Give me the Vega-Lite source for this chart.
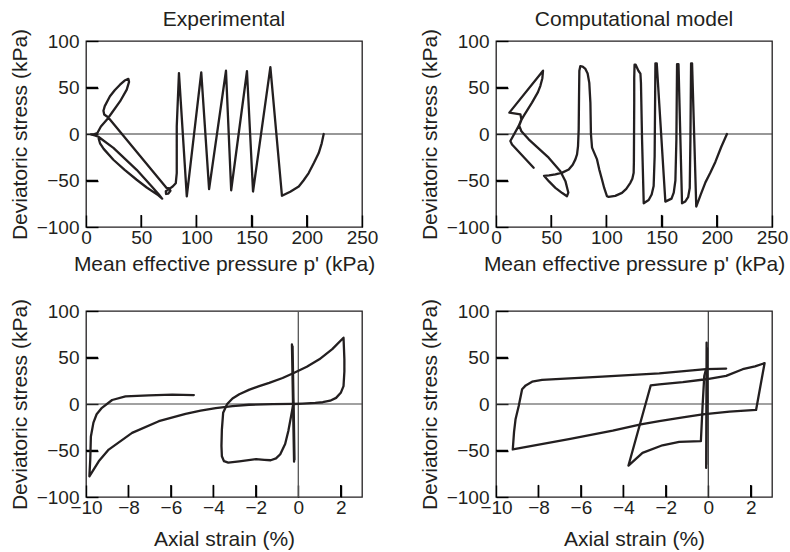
{
  "$schema": "https://vega.github.io/schema/vega-lite/v6.json",
  "background": "white",
  "padding": {"left": 8, "top": 8, "right": 0, "bottom": 0},
  "bounds": "flush",
  "columns": 2,
  "spacing": {"row": 84, "column": 134},
  "config": {
    "view": {"stroke": "#231f20", "strokeWidth": 1.3},
    "font": "Liberation Sans",
    "axis": {
      "domain": false, "grid": false, "ticks": true, "tickSize": 12, "offset": -12, "zindex": 2,
      "tickColor": "black", "tickWidth": 1.4, "tickOpacity": 1,
      "labelFont": "Liberation Sans", "labelFontSize": 19, "labelColor": "#231f20",
      "labelFlush": false, "labelOverlap": false, "labelBound": false,
      "titleFont": "Liberation Sans", "titleFontSize": 21, "titleFontWeight": "normal", "titleColor": "#231f20"
    },
    "axisX": {"labelPadding": 1.5, "titlePadding": 6},
    "axisY": {"labelPadding": 7, "titlePadding": 6},
    "title": {"font": "Liberation Sans", "fontSize": 21, "fontWeight": "normal", "color": "#231f20", "offset": -2, "baseline": "alphabetic", "frame": "group"}
  },
  "datasets": {
    "ticksP": [{"v": 50}, {"v": 100}, {"v": 150}, {"v": 200}],
    "ticksE": [{"v": -8}, {"v": -6}, {"v": -4}, {"v": -2}, {"v": 2}],
    "ticksQ": [{"v": 50}, {"v": -50}],
    "expStress": [
      {"seg": "a", "i": 1, "x": 215.3, "y": 0},
      {"seg": "a", "i": 2, "x": 213.5, "y": -10},
      {"seg": "a", "i": 3, "x": 210.8, "y": -20.5},
      {"seg": "a", "i": 4, "x": 206.5, "y": -31},
      {"seg": "a", "i": 5, "x": 201.7, "y": -42},
      {"seg": "a", "i": 6, "x": 197, "y": -50},
      {"seg": "a", "i": 7, "x": 192.7, "y": -56.4},
      {"seg": "a", "i": 8, "x": 185, "y": -62},
      {"seg": "a", "i": 9, "x": 177.5, "y": -66.5},
      {"seg": "a", "i": 10, "x": 167, "y": 72},
      {"seg": "a", "i": 11, "x": 151.3, "y": -61.8},
      {"seg": "a", "i": 12, "x": 145.8, "y": 67.5},
      {"seg": "a", "i": 13, "x": 131.5, "y": -60.5},
      {"seg": "a", "i": 14, "x": 126.8, "y": 68},
      {"seg": "a", "i": 15, "x": 111.5, "y": -59.3},
      {"seg": "a", "i": 16, "x": 104.4, "y": 66.2},
      {"seg": "a", "i": 17, "x": 91.3, "y": -67},
      {"seg": "a", "i": 18, "x": 84.2, "y": 65.5},
      {"seg": "a", "i": 19, "x": 82.2, "y": 8},
      {"seg": "a", "i": 20, "x": 82.2, "y": -42},
      {"seg": "a", "i": 21, "x": 81.3, "y": -53},
      {"seg": "a", "i": 22, "x": 78.5, "y": -56.5},
      {"seg": "a", "i": 23, "x": 75.5, "y": -59},
      {"seg": "a", "i": 24, "x": 72.3, "y": -61.5},
      {"seg": "a", "i": 25, "x": 72.5, "y": -64.5},
      {"seg": "a", "i": 26, "x": 74.6, "y": -64},
      {"seg": "a", "i": 27, "x": 76.5, "y": -61},
      {"seg": "a", "i": 28, "x": 75.5, "y": -58.5},
      {"seg": "a", "i": 29, "x": 73, "y": -58},
      {"seg": "a", "i": 30, "x": 20, "y": 18},
      {"seg": "a", "i": 31, "x": 16.5, "y": 21},
      {"seg": "a", "i": 32, "x": 15.8, "y": 25},
      {"seg": "a", "i": 33, "x": 17, "y": 30},
      {"seg": "a", "i": 34, "x": 21.7, "y": 40.5},
      {"seg": "a", "i": 35, "x": 26, "y": 47},
      {"seg": "a", "i": 36, "x": 30.8, "y": 53},
      {"seg": "a", "i": 37, "x": 35, "y": 57.5},
      {"seg": "a", "i": 38, "x": 38.4, "y": 59.3},
      {"seg": "a", "i": 39, "x": 39, "y": 56},
      {"seg": "a", "i": 40, "x": 36.9, "y": 47.7},
      {"seg": "a", "i": 41, "x": 30.8, "y": 35},
      {"seg": "a", "i": 42, "x": 23.3, "y": 22.6},
      {"seg": "a", "i": 43, "x": 19, "y": 15.5},
      {"seg": "a", "i": 44, "x": 13.5, "y": 8},
      {"seg": "a", "i": 45, "x": 10.3, "y": 1},
      {"seg": "a", "i": 46, "x": 7, "y": -0.3},
      {"seg": "a", "i": 47, "x": 4.5, "y": -0.3},
      {"seg": "a", "i": 48, "x": 8, "y": -1.5},
      {"seg": "a", "i": 49, "x": 11.2, "y": -3},
      {"seg": "a", "i": 50, "x": 24.8, "y": -15},
      {"seg": "a", "i": 51, "x": 45.9, "y": -38.5},
      {"seg": "a", "i": 52, "x": 60, "y": -57},
      {"seg": "a", "i": 53, "x": 66, "y": -65},
      {"seg": "a", "i": 54, "x": 69, "y": -69.5},
      {"seg": "a", "i": 55, "x": 65.6, "y": -66},
      {"seg": "a", "i": 56, "x": 55, "y": -57.5},
      {"seg": "a", "i": 57, "x": 45.9, "y": -49.2},
      {"seg": "a", "i": 58, "x": 35, "y": -38.5},
      {"seg": "a", "i": 59, "x": 24.8, "y": -27.7},
      {"seg": "a", "i": 60, "x": 16, "y": -16},
      {"seg": "a", "i": 61, "x": 12.7, "y": -10},
      {"seg": "a", "i": 62, "x": 11.5, "y": -5}
    ],
    "modStress": [
      {"seg": "a", "i": 1, "x": 209.2, "y": 0},
      {"seg": "a", "i": 2, "x": 204, "y": -14},
      {"seg": "a", "i": 3, "x": 198.7, "y": -30},
      {"seg": "a", "i": 4, "x": 194, "y": -42},
      {"seg": "a", "i": 5, "x": 189.7, "y": -52},
      {"seg": "a", "i": 6, "x": 185.5, "y": -65},
      {"seg": "a", "i": 7, "x": 181.4, "y": -78},
      {"seg": "a", "i": 8, "x": 177.6, "y": 76},
      {"seg": "a", "i": 9, "x": 176.7, "y": 76},
      {"seg": "a", "i": 10, "x": 176.1, "y": -6},
      {"seg": "a", "i": 11, "x": 175.5, "y": -58},
      {"seg": "a", "i": 12, "x": 174, "y": -68},
      {"seg": "a", "i": 13, "x": 171.5, "y": -72.5},
      {"seg": "a", "i": 14, "x": 168.5, "y": -74.4},
      {"seg": "a", "i": 15, "x": 165.3, "y": 75},
      {"seg": "a", "i": 16, "x": 164, "y": 75},
      {"seg": "a", "i": 17, "x": 163.4, "y": -6},
      {"seg": "a", "i": 18, "x": 162.5, "y": -50},
      {"seg": "a", "i": 19, "x": 161, "y": -63},
      {"seg": "a", "i": 20, "x": 159, "y": -69.5},
      {"seg": "a", "i": 21, "x": 153.4, "y": -72.7},
      {"seg": "a", "i": 22, "x": 145.6, "y": 76},
      {"seg": "a", "i": 23, "x": 144.4, "y": 76},
      {"seg": "a", "i": 24, "x": 143.7, "y": -24},
      {"seg": "a", "i": 25, "x": 142.8, "y": -56},
      {"seg": "a", "i": 26, "x": 141, "y": -65},
      {"seg": "a", "i": 27, "x": 138.3, "y": -71},
      {"seg": "a", "i": 28, "x": 133.8, "y": -74.4},
      {"seg": "a", "i": 29, "x": 132.3, "y": -6},
      {"seg": "a", "i": 30, "x": 131.3, "y": 55},
      {"seg": "a", "i": 31, "x": 130.8, "y": 65},
      {"seg": "a", "i": 32, "x": 129, "y": 68},
      {"seg": "a", "i": 33, "x": 126.5, "y": 74.5},
      {"seg": "a", "i": 34, "x": 125.5, "y": 74.5},
      {"seg": "a", "i": 35, "x": 125.2, "y": 60},
      {"seg": "a", "i": 36, "x": 125.2, "y": 34},
      {"seg": "a", "i": 37, "x": 124.9, "y": -30},
      {"seg": "a", "i": 38, "x": 124.7, "y": -41.7},
      {"seg": "a", "i": 39, "x": 123.5, "y": -48},
      {"seg": "a", "i": 40, "x": 121.7, "y": -52.5},
      {"seg": "a", "i": 41, "x": 118, "y": -59},
      {"seg": "a", "i": 42, "x": 114.1, "y": -63.3},
      {"seg": "a", "i": 43, "x": 108, "y": -66.5},
      {"seg": "a", "i": 44, "x": 102, "y": -67.6},
      {"seg": "a", "i": 45, "x": 100.5, "y": -66.9},
      {"seg": "a", "i": 46, "x": 98, "y": -58},
      {"seg": "a", "i": 47, "x": 96, "y": -48.9},
      {"seg": "a", "i": 48, "x": 93.5, "y": -38},
      {"seg": "a", "i": 49, "x": 91.5, "y": -27.3},
      {"seg": "a", "i": 50, "x": 88.5, "y": -19},
      {"seg": "a", "i": 51, "x": 87, "y": -14.7},
      {"seg": "a", "i": 52, "x": 86, "y": 0},
      {"seg": "a", "i": 53, "x": 85.5, "y": 33.8},
      {"seg": "a", "i": 54, "x": 84.5, "y": 55},
      {"seg": "a", "i": 55, "x": 83, "y": 65},
      {"seg": "a", "i": 56, "x": 81, "y": 70},
      {"seg": "a", "i": 57, "x": 78.5, "y": 72.5},
      {"seg": "a", "i": 58, "x": 76.4, "y": 73},
      {"seg": "a", "i": 59, "x": 75.5, "y": 68},
      {"seg": "a", "i": 60, "x": 75.2, "y": 40},
      {"seg": "a", "i": 61, "x": 74.9, "y": 5},
      {"seg": "a", "i": 62, "x": 74.3, "y": -13},
      {"seg": "a", "i": 63, "x": 73.4, "y": -22},
      {"seg": "a", "i": 64, "x": 71.9, "y": -27.3},
      {"seg": "a", "i": 65, "x": 69.5, "y": -33},
      {"seg": "a", "i": 66, "x": 65.9, "y": -38.1},
      {"seg": "a", "i": 67, "x": 60, "y": -41.5},
      {"seg": "a", "i": 68, "x": 53.8, "y": -43.5},
      {"seg": "a", "i": 69, "x": 48, "y": -44.5},
      {"seg": "a", "i": 70, "x": 43.5, "y": -45},
      {"seg": "a", "i": 71, "x": 48, "y": -51},
      {"seg": "a", "i": 72, "x": 53.8, "y": -57.9},
      {"seg": "a", "i": 73, "x": 60, "y": -63.5},
      {"seg": "a", "i": 74, "x": 64.3, "y": -66.9},
      {"seg": "a", "i": 75, "x": 65.5, "y": -63},
      {"seg": "a", "i": 76, "x": 65.2, "y": -61.5},
      {"seg": "a", "i": 77, "x": 62.9, "y": -50.7},
      {"seg": "a", "i": 78, "x": 58.3, "y": -40},
      {"seg": "a", "i": 79, "x": 47.7, "y": -25.5},
      {"seg": "a", "i": 80, "x": 38, "y": -15},
      {"seg": "a", "i": 81, "x": 29.6, "y": -5.7},
      {"seg": "a", "i": 82, "x": 23, "y": 3},
      {"seg": "a", "i": 83, "x": 21, "y": 9},
      {"seg": "a", "i": 84, "x": 23, "y": 15},
      {"seg": "a", "i": 85, "x": 25.1, "y": 19.5},
      {"seg": "a", "i": 86, "x": 32.6, "y": 33.8},
      {"seg": "a", "i": 87, "x": 38, "y": 45},
      {"seg": "a", "i": 88, "x": 40.2, "y": 51.8},
      {"seg": "a", "i": 89, "x": 42, "y": 60},
      {"seg": "a", "i": 90, "x": 42.6, "y": 68},
      {"seg": "a", "i": 91, "x": 12.1, "y": 23},
      {"seg": "a", "i": 92, "x": 22.1, "y": 21.2},
      {"seg": "a", "i": 93, "x": 23, "y": 15.8},
      {"seg": "a", "i": 94, "x": 20.6, "y": 8.7},
      {"seg": "a", "i": 95, "x": 13, "y": -7.5},
      {"seg": "a", "i": 96, "x": 14.5, "y": -11.2},
      {"seg": "a", "i": 97, "x": 34.1, "y": -36.3}
    ],
    "expStrain": [
      {"seg": "a", "i": 1, "x": -0.22, "y": 0},
      {"seg": "a", "i": 2, "x": -0.3, "y": 64},
      {"seg": "a", "i": 3, "x": -0.2, "y": -62},
      {"seg": "a", "i": 4, "x": -0.27, "y": 62},
      {"seg": "a", "i": 5, "x": -0.18, "y": -60},
      {"seg": "a", "i": 6, "x": -0.22, "y": 0},
      {"seg": "b", "i": 1, "x": -0.22, "y": 0},
      {"seg": "b", "i": 2, "x": 0.2, "y": 0.5},
      {"seg": "b", "i": 3, "x": 0.8, "y": 1.2},
      {"seg": "b", "i": 4, "x": 1.15, "y": 1.9},
      {"seg": "b", "i": 5, "x": 1.5, "y": 3.5},
      {"seg": "b", "i": 6, "x": 1.78, "y": 6.6},
      {"seg": "b", "i": 7, "x": 2.0, "y": 12},
      {"seg": "b", "i": 8, "x": 2.13, "y": 19.2},
      {"seg": "b", "i": 9, "x": 2.17, "y": 35},
      {"seg": "b", "i": 10, "x": 2.17, "y": 48},
      {"seg": "b", "i": 11, "x": 2.15, "y": 60},
      {"seg": "b", "i": 12, "x": 2.13, "y": 71.3},
      {"seg": "b", "i": 13, "x": 1.6, "y": 59},
      {"seg": "b", "i": 14, "x": 0.99, "y": 48},
      {"seg": "b", "i": 15, "x": 0.4, "y": 40},
      {"seg": "b", "i": 16, "x": -0.19, "y": 33.6},
      {"seg": "b", "i": 17, "x": -0.74, "y": 28},
      {"seg": "b", "i": 18, "x": -1.37, "y": 22.8},
      {"seg": "b", "i": 19, "x": -1.84, "y": 19.2},
      {"seg": "b", "i": 20, "x": -2.3, "y": 15.5},
      {"seg": "b", "i": 21, "x": -2.78, "y": 10.5},
      {"seg": "b", "i": 22, "x": -3.1, "y": 6},
      {"seg": "b", "i": 23, "x": -3.35, "y": 0},
      {"seg": "b", "i": 24, "x": -3.54, "y": -9.5},
      {"seg": "b", "i": 25, "x": -3.6, "y": -27.5},
      {"seg": "b", "i": 26, "x": -3.62, "y": -45},
      {"seg": "b", "i": 27, "x": -3.6, "y": -56.2},
      {"seg": "b", "i": 28, "x": -3.5, "y": -61.5},
      {"seg": "b", "i": 29, "x": -3.3, "y": -63},
      {"seg": "b", "i": 30, "x": -2.78, "y": -61.6},
      {"seg": "b", "i": 31, "x": -1.99, "y": -59.2},
      {"seg": "b", "i": 32, "x": -1.6, "y": -60},
      {"seg": "b", "i": 33, "x": -1.3, "y": -60.5},
      {"seg": "b", "i": 34, "x": -1.05, "y": -58.5},
      {"seg": "b", "i": 35, "x": -0.85, "y": -54},
      {"seg": "b", "i": 36, "x": -0.62, "y": -43},
      {"seg": "b", "i": 37, "x": -0.47, "y": -29},
      {"seg": "b", "i": 38, "x": -0.34, "y": -13},
      {"seg": "b", "i": 39, "x": -0.24, "y": -0.5},
      {"seg": "c", "i": 1, "x": -0.25, "y": 0.2},
      {"seg": "c", "i": 2, "x": -1.2, "y": -0.1},
      {"seg": "c", "i": 3, "x": -2.32, "y": -0.8},
      {"seg": "c", "i": 4, "x": -3.1, "y": -2.2},
      {"seg": "c", "i": 5, "x": -3.89, "y": -4.4},
      {"seg": "c", "i": 6, "x": -4.6, "y": -7.2},
      {"seg": "c", "i": 7, "x": -5.31, "y": -10.6},
      {"seg": "c", "i": 8, "x": -6.57, "y": -18.5},
      {"seg": "c", "i": 9, "x": -7.83, "y": -31.1},
      {"seg": "c", "i": 10, "x": -8.93, "y": -49},
      {"seg": "c", "i": 11, "x": -9.4, "y": -61.6},
      {"seg": "c", "i": 12, "x": -9.84, "y": -77.8},
      {"seg": "c", "i": 13, "x": -9.8, "y": -60},
      {"seg": "c", "i": 14, "x": -9.77, "y": -35},
      {"seg": "c", "i": 15, "x": -9.65, "y": -20},
      {"seg": "c", "i": 16, "x": -9.5, "y": -11},
      {"seg": "c", "i": 17, "x": -9.25, "y": -4.1},
      {"seg": "c", "i": 18, "x": -8.77, "y": 4.3},
      {"seg": "c", "i": 19, "x": -8.14, "y": 8.2},
      {"seg": "c", "i": 20, "x": -7.04, "y": 9.3},
      {"seg": "c", "i": 21, "x": -5.94, "y": 10.1},
      {"seg": "c", "i": 22, "x": -4.92, "y": 9.6}
    ],
    "modStrain": [
      {"seg": "a", "i": 1, "x": -0.05, "y": 0},
      {"seg": "a", "i": 2, "x": -0.08, "y": 66},
      {"seg": "a", "i": 3, "x": -0.1, "y": -68.7},
      {"seg": "a", "i": 4, "x": -0.06, "y": 60},
      {"seg": "a", "i": 5, "x": -0.09, "y": -65},
      {"seg": "a", "i": 6, "x": -0.07, "y": 0},
      {"seg": "b", "i": 1, "x": -0.27, "y": -11.2},
      {"seg": "b", "i": 2, "x": 1, "y": -8.3},
      {"seg": "b", "i": 3, "x": 2.25, "y": -6.4},
      {"seg": "b", "i": 4, "x": 2.65, "y": 43.9},
      {"seg": "b", "i": 5, "x": 2.2, "y": 40.5},
      {"seg": "b", "i": 6, "x": 1.62, "y": 37.4},
      {"seg": "b", "i": 7, "x": 0.84, "y": 30.2},
      {"seg": "b", "i": 8, "x": -0.11, "y": 26.6},
      {"seg": "b", "i": 9, "x": -1.2, "y": 23.5},
      {"seg": "b", "i": 10, "x": -2.31, "y": 21.2},
      {"seg": "b", "i": 11, "x": -2.71, "y": 20.1},
      {"seg": "b", "i": 12, "x": -3.76, "y": -66.2},
      {"seg": "b", "i": 13, "x": -3.1, "y": -52.5},
      {"seg": "b", "i": 14, "x": -2.16, "y": -44.4},
      {"seg": "b", "i": 15, "x": -1.37, "y": -40.8},
      {"seg": "b", "i": 16, "x": -0.35, "y": -40},
      {"seg": "b", "i": 17, "x": -0.27, "y": -2.1},
      {"seg": "b", "i": 18, "x": -0.19, "y": 30.2},
      {"seg": "b", "i": 19, "x": -0.11, "y": 37.4},
      {"seg": "c", "i": 1, "x": 0.84, "y": 38.1},
      {"seg": "c", "i": 2, "x": -0.11, "y": 37.4},
      {"seg": "c", "i": 3, "x": -2.31, "y": 33},
      {"seg": "c", "i": 4, "x": -5, "y": 29.5},
      {"seg": "c", "i": 5, "x": -7.83, "y": 25.9},
      {"seg": "c", "i": 6, "x": -8.3, "y": 24},
      {"seg": "c", "i": 7, "x": -8.6, "y": 20},
      {"seg": "c", "i": 8, "x": -8.77, "y": 15.8},
      {"seg": "c", "i": 9, "x": -8.93, "y": -2.1},
      {"seg": "c", "i": 10, "x": -9.08, "y": -16.5},
      {"seg": "c", "i": 11, "x": -9.15, "y": -30},
      {"seg": "c", "i": 12, "x": -9.21, "y": -48.9},
      {"seg": "c", "i": 13, "x": -6.5, "y": -37.5},
      {"seg": "c", "i": 14, "x": -4.5, "y": -28.5},
      {"seg": "c", "i": 15, "x": -3.18, "y": -21.8},
      {"seg": "c", "i": 16, "x": -2.31, "y": -18.3},
      {"seg": "c", "i": 17, "x": -1.2, "y": -14.5},
      {"seg": "c", "i": 18, "x": -0.27, "y": -11.2}
    ]
  },
  "concat": [
    {
      "width": 276, "height": 186,
      "title": "Experimental",
      "layer": [
        {
          "data": {"values": [{}]},
          "mark": {"type": "rule", "color": "#333333", "strokeWidth": 1.2},
          "encoding": {"y": {"datum": 0, "type": "quantitative", "scale": {"domain": [-100, 100], "nice": false}}}
        },
        {
          "data": {"name": "ticksP"},
          "mark": {"type": "rule", "color": "black", "strokeWidth": 1.5},
          "encoding": {"x": {"field": "v", "type": "quantitative"}, "y": {"datum": -100, "type": "quantitative"}, "y2": {"datum": -87}}
        },
        {
          "data": {"name": "ticksQ"},
          "mark": {"type": "rule", "color": "black", "strokeWidth": 1.5},
          "encoding": {"y": {"field": "v", "type": "quantitative"}, "x": {"datum": 0, "type": "quantitative"}, "x2": {"datum": 10.9}}
        },
        {
          "data": {"name": "expStress"},
          "mark": {"type": "line", "color": "#231f20", "strokeWidth": 2.3, "strokeJoin": "round", "strokeCap": "round"},
          "encoding": {
            "x": {"field": "x", "type": "quantitative", "scale": {"domain": [0, 250], "nice": false, "zero": false}, "axis": {"values": [0, 50, 100, 150, 200, 250], "title": "Mean effective pressure p' (kPa)"}},
            "y": {"field": "y", "type": "quantitative", "scale": {"domain": [-100, 100], "nice": false}, "axis": {"values": [-100, -50, 0, 50, 100], "title": "Deviatoric stress (kPa)"}},
            "detail": {"field": "seg"},
            "order": {"field": "i", "type": "quantitative"}
          }
        }
      ]
    },
    {
      "width": 276, "height": 186,
      "title": "Computational model",
      "layer": [
        {
          "data": {"values": [{}]},
          "mark": {"type": "rule", "color": "#333333", "strokeWidth": 1.2},
          "encoding": {"y": {"datum": 0, "type": "quantitative", "scale": {"domain": [-100, 100], "nice": false}}}
        },
        {
          "data": {"name": "ticksP"},
          "mark": {"type": "rule", "color": "black", "strokeWidth": 1.5},
          "encoding": {"x": {"field": "v", "type": "quantitative"}, "y": {"datum": -100, "type": "quantitative"}, "y2": {"datum": -87}}
        },
        {
          "data": {"name": "ticksQ"},
          "mark": {"type": "rule", "color": "black", "strokeWidth": 1.5},
          "encoding": {"y": {"field": "v", "type": "quantitative"}, "x": {"datum": 0, "type": "quantitative"}, "x2": {"datum": 10.9}}
        },
        {
          "data": {"name": "modStress"},
          "mark": {"type": "line", "color": "#231f20", "strokeWidth": 2.3, "strokeJoin": "round", "strokeCap": "round"},
          "encoding": {
            "x": {"field": "x", "type": "quantitative", "scale": {"domain": [0, 250], "nice": false, "zero": false}, "axis": {"values": [0, 50, 100, 150, 200, 250], "title": "Mean effective pressure p' (kPa)"}},
            "y": {"field": "y", "type": "quantitative", "scale": {"domain": [-100, 100], "nice": false}, "axis": {"values": [-100, -50, 0, 50, 100], "title": "Deviatoric stress (kPa)"}},
            "detail": {"field": "seg"},
            "order": {"field": "i", "type": "quantitative"}
          }
        }
      ]
    },
    {
      "width": 276, "height": 186,
      "layer": [
        {
          "data": {"values": [{}]},
          "mark": {"type": "rule", "color": "#444444", "strokeWidth": 1.2},
          "encoding": {"y": {"datum": 0, "type": "quantitative", "scale": {"domain": [-100, 100], "nice": false}}}
        },
        {
          "data": {"values": [{}]},
          "mark": {"type": "rule", "color": "#555555", "strokeWidth": 1.3},
          "encoding": {"x": {"datum": 0, "type": "quantitative", "scale": {"domain": [-10, 3], "nice": false, "zero": false}}}
        },
        {
          "data": {"name": "ticksE"},
          "mark": {"type": "rule", "color": "black", "strokeWidth": 1.5},
          "encoding": {"x": {"field": "v", "type": "quantitative"}, "y": {"datum": -100, "type": "quantitative"}, "y2": {"datum": -87}}
        },
        {
          "data": {"name": "ticksQ"},
          "mark": {"type": "rule", "color": "black", "strokeWidth": 1.5},
          "encoding": {"y": {"field": "v", "type": "quantitative"}, "x": {"datum": -10, "type": "quantitative"}, "x2": {"datum": -9.43}}
        },
        {
          "data": {"name": "expStrain"},
          "mark": {"type": "line", "color": "#231f20", "strokeWidth": 2.3, "strokeJoin": "round", "strokeCap": "round"},
          "encoding": {
            "x": {"field": "x", "type": "quantitative", "scale": {"domain": [-10, 3], "nice": false, "zero": false}, "axis": {"values": [-10, -8, -6, -4, -2, 0, 2], "titlePadding": 11, "title": "Axial strain (%)"}},
            "y": {"field": "y", "type": "quantitative", "scale": {"domain": [-100, 100], "nice": false}, "axis": {"values": [-100, -50, 0, 50, 100], "title": "Deviatoric stress (kPa)"}},
            "detail": {"field": "seg"},
            "order": {"field": "i", "type": "quantitative"}
          }
        }
      ]
    },
    {
      "width": 276, "height": 186,
      "layer": [
        {
          "data": {"values": [{}]},
          "mark": {"type": "rule", "color": "#444444", "strokeWidth": 1.2},
          "encoding": {"y": {"datum": 0, "type": "quantitative", "scale": {"domain": [-100, 100], "nice": false}}}
        },
        {
          "data": {"values": [{}]},
          "mark": {"type": "rule", "color": "#333333", "strokeWidth": 1.2},
          "encoding": {"x": {"datum": 0, "type": "quantitative", "scale": {"domain": [-10, 3], "nice": false, "zero": false}}}
        },
        {
          "data": {"name": "ticksE"},
          "mark": {"type": "rule", "color": "black", "strokeWidth": 1.5},
          "encoding": {"x": {"field": "v", "type": "quantitative"}, "y": {"datum": -100, "type": "quantitative"}, "y2": {"datum": -87}}
        },
        {
          "data": {"name": "ticksQ"},
          "mark": {"type": "rule", "color": "black", "strokeWidth": 1.5},
          "encoding": {"y": {"field": "v", "type": "quantitative"}, "x": {"datum": -10, "type": "quantitative"}, "x2": {"datum": -9.43}}
        },
        {
          "data": {"name": "modStrain"},
          "mark": {"type": "line", "color": "#231f20", "strokeWidth": 2.3, "strokeJoin": "round", "strokeCap": "round"},
          "encoding": {
            "x": {"field": "x", "type": "quantitative", "scale": {"domain": [-10, 3], "nice": false, "zero": false}, "axis": {"values": [-10, -8, -6, -4, -2, 0, 2], "titlePadding": 11, "title": "Axial strain (%)"}},
            "y": {"field": "y", "type": "quantitative", "scale": {"domain": [-100, 100], "nice": false}, "axis": {"values": [-100, -50, 0, 50, 100], "title": "Deviatoric stress (kPa)"}},
            "detail": {"field": "seg"},
            "order": {"field": "i", "type": "quantitative"}
          }
        }
      ]
    }
  ]
}
